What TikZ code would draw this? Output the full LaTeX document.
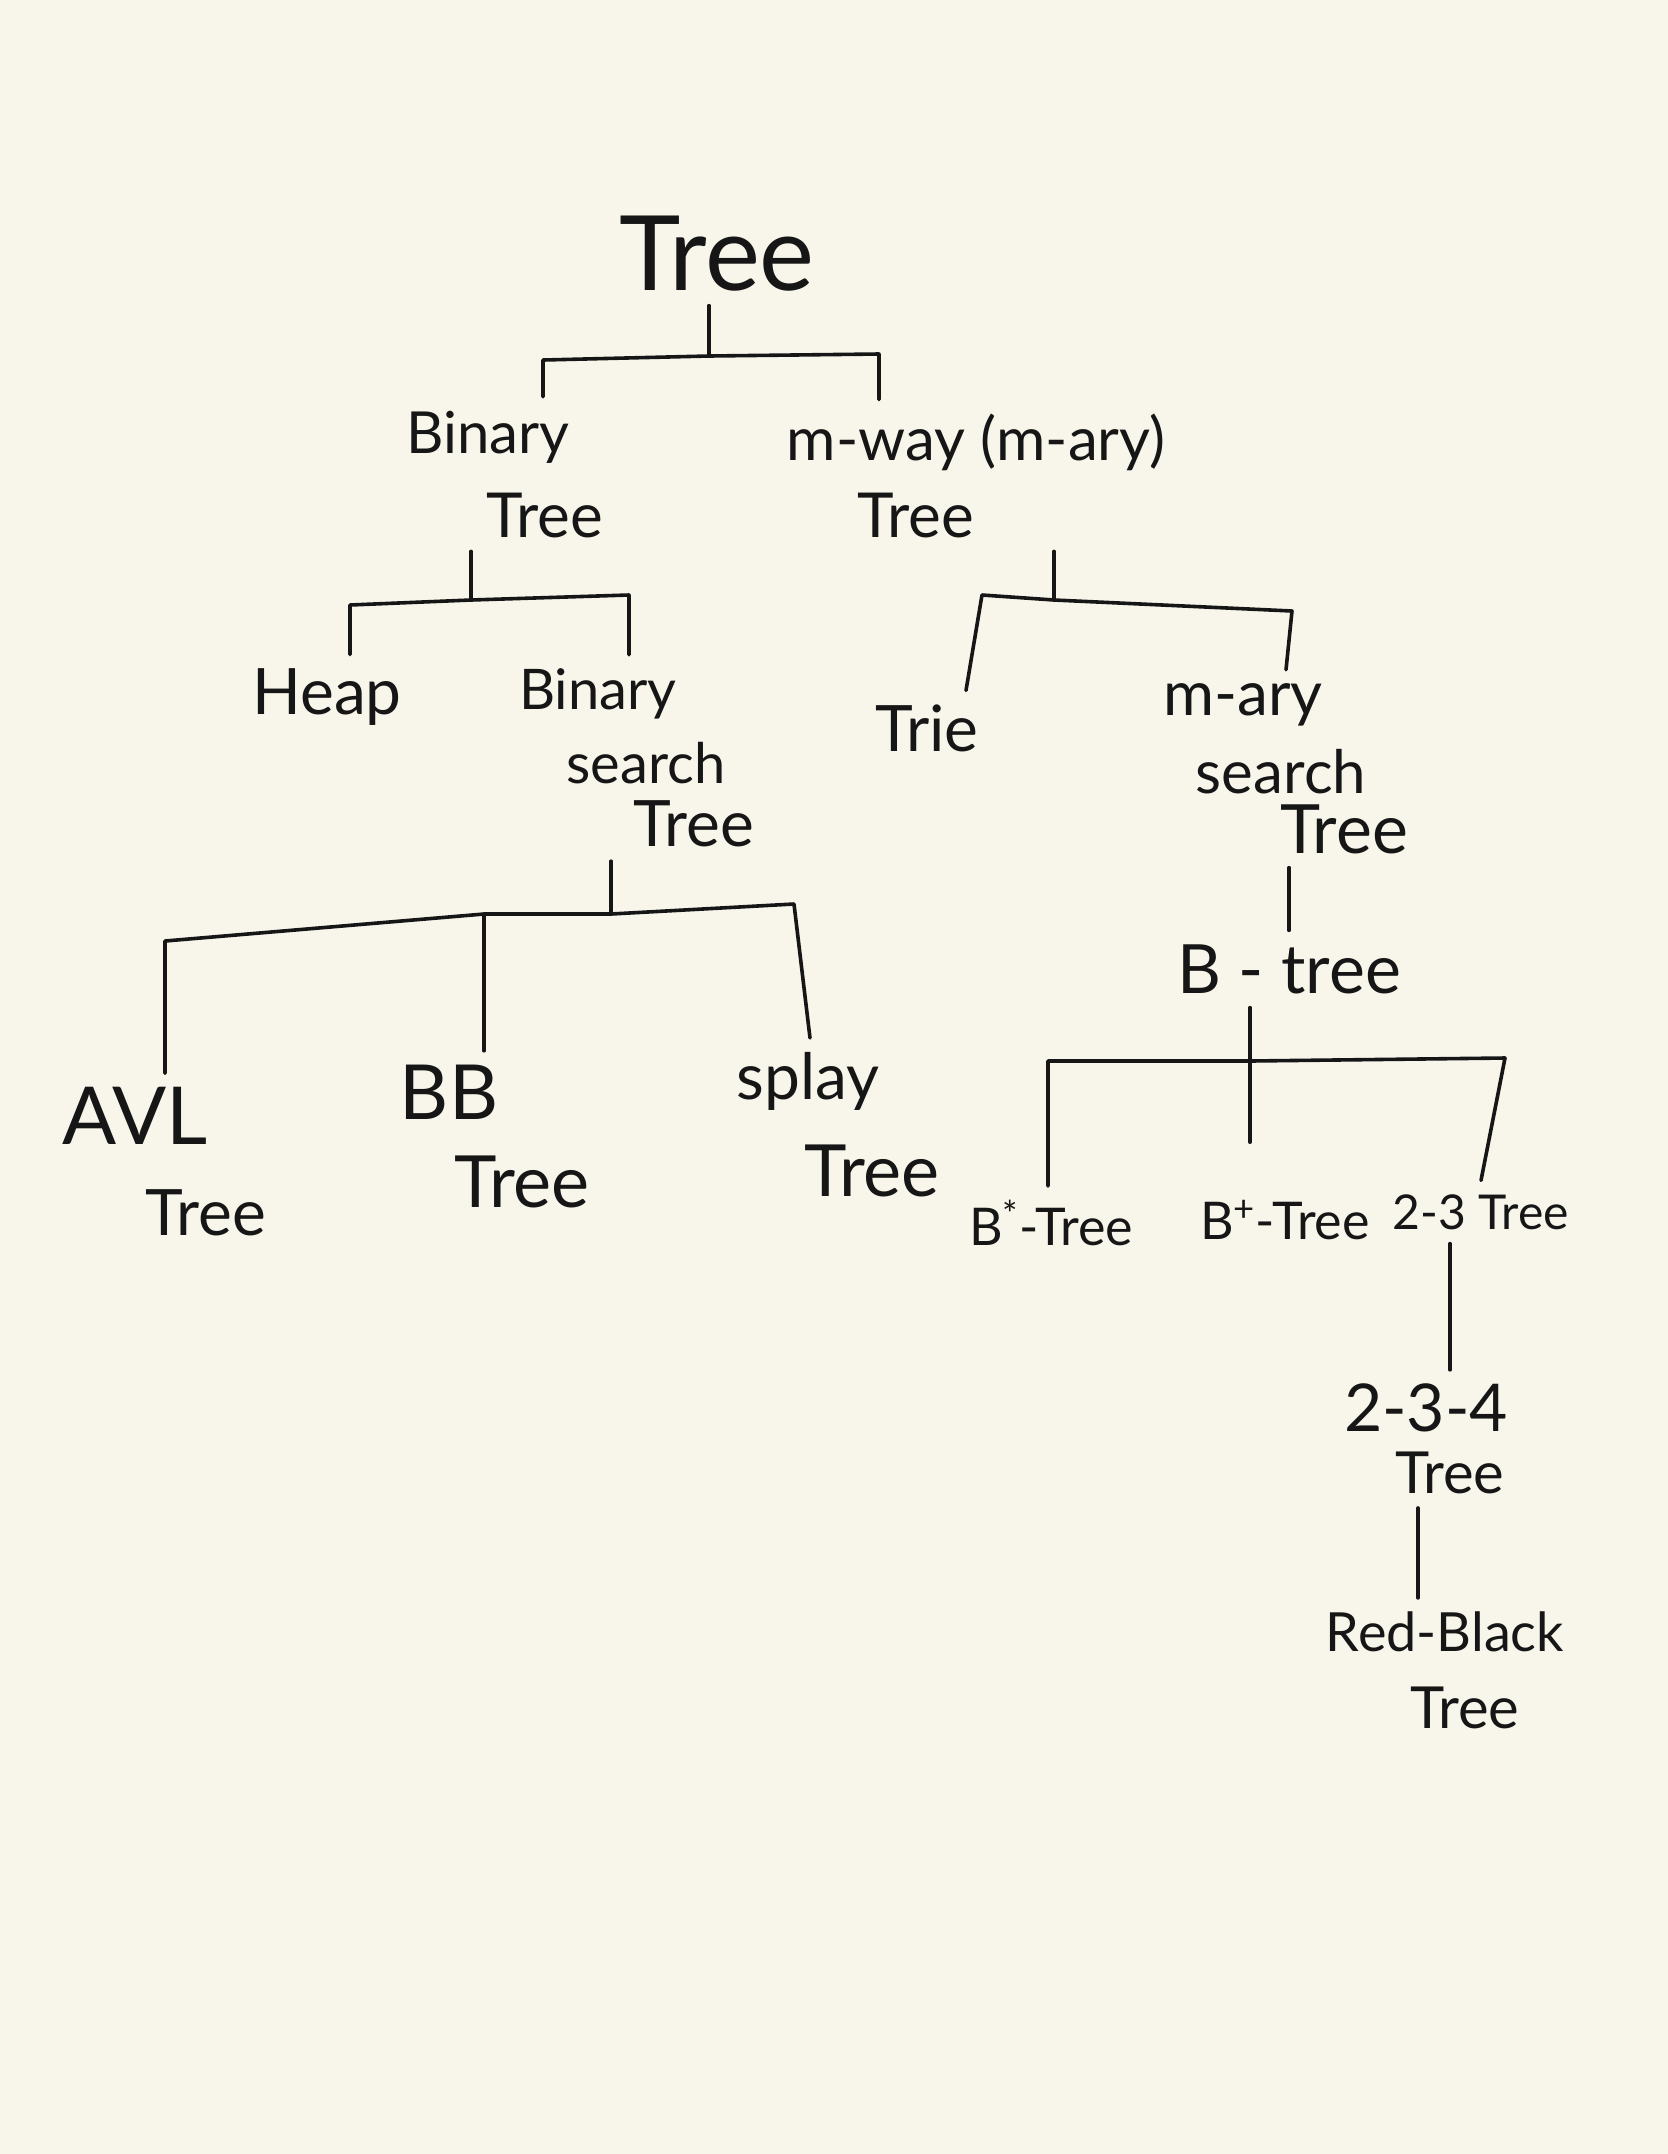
\documentclass[tikz,border=0pt]{standalone}
\usepackage{fontspec}
\setmainfont{Lato}
\definecolor{paper}{HTML}{F8F6EB}
\definecolor{ink}{HTML}{161616}
\begin{document}
\begin{tikzpicture}[x=0.5pt,y=-0.5pt,
  lbl/.style={text=ink,inner sep=3pt,outer sep=4pt,anchor=center},
  fs/.style={font=\fontsize{#1}{#1}\selectfont},
  edge/.style={draw=ink,line width=1.8pt,line cap=round,line join=round}]
\fill[paper] (0,0) rectangle (1668,2154);
\useasboundingbox (0,0) rectangle (1668,2154);
% nodes
\node[lbl,fs=52] (root) at (717,254) {Tree};
\node[lbl,fs=29] (binA) at (488,437) {Binary};
\node[lbl,fs=31] (binB) at (545,515) {Tree};
\node[lbl,fs=30] (mwA) at (976,442) {m-way (m-ary)};
\node[lbl,fs=31] (mwB) at (916,515) {Tree};
\node[lbl,fs=32] (heap) at (327,697) {Heap};
\node[lbl,fs=28] (bstA) at (598,694) {Binary};
\node[lbl,fs=28] (bstB) at (646,763) {search};
\node[lbl,fs=32] (bstC) at (694,824) {Tree};
\node[lbl,fs=32] (trie) at (927,728) {Trie};
\node[lbl,fs=31] (msA) at (1243,705) {m-ary};
\node[lbl,fs=30] (msB) at (1281,772) {search};
\node[lbl,fs=34] (msC) at (1344,829) {Tree};
\node[lbl,fs=40] (avlA) at (135,1116) {AVL};
\node[lbl,fs=32] (avlB) at (206,1213) {Tree};
\node[lbl,fs=38] (bbA) at (449,1092) {BB};
\node[lbl,fs=36] (bbB) at (522,1182) {Tree};
\node[lbl,fs=32] (spA) at (808,1081) {splay};
\node[lbl,fs=36] (spB) at (872,1171) {Tree};
\node[lbl,fs=34] (btree) at (1289,969) {B - tree};
\node[lbl,fs=26] (bstar) at (1051,1223) {B\textsuperscript{*}-Tree};
\node[lbl,fs=26] (bplus) at (1285,1220) {B\textsuperscript{+}-Tree};
\node[lbl,fs=24] (ttt) at (1481,1212) {2-3 Tree};
\node[lbl,fs=33] (tttfA) at (1426,1408) {2-3-4};
\node[lbl,fs=29] (tttfB) at (1450,1473) {Tree};
\node[lbl,fs=27] (rbA) at (1445,1632) {Red-Black};
\node[lbl,fs=29] (rbB) at (1465,1708) {Tree};
% junction coordinates
\coordinate (r0) at (709,356);
\coordinate (rl) at (543,360);
\coordinate (rr) at (879,354);
\coordinate (b0) at (471,600);
\coordinate (bl) at (350,605);
\coordinate (br) at (629,595);
\coordinate (m0) at (1054,600);
\coordinate (ml) at (982,595);
\coordinate (mr) at (1292,611);
\coordinate (s0) at (611,914);
\coordinate (sl) at (165,941);
\coordinate (sm) at (484,914);
\coordinate (sr) at (794,904);
\coordinate (t0) at (1250,1061);
\coordinate (tl) at (1048,1061);
\coordinate (tr) at (1505,1058);
\coordinate (xq) at (1450,1300);
\coordinate (xk) at (1418,1550);
% Tree
\draw[edge] (root.south -| r0) -- (r0);
\draw[edge] (rl |- binA.north) -- (rl) -- (r0) -- (rr) -- (rr |- mwA.north);
% Binary Tree
\draw[edge] (binB.south -| b0) -- (b0);
\draw[edge] (bl |- heap.north) -- (bl) -- (b0) -- (br) -- (br |- bstA.north);
% m-way Tree
\draw[edge] (mwB.south -| m0) -- (m0);
\draw[edge] ([xshift=-8pt]ml |- trie.north) -- (ml) -- (m0) -- (mr) -- ([xshift=-3pt]mr |- msA.north);
% Binary search tree
\draw[edge] (bstC.south -| s0) -- (s0);
\draw[edge] (sl |- avlA.north) -- (sl) -- (sm) -- (s0) -- (sr) -- ([xshift=8pt]sr |- spA.north);
\draw[edge] (sm) -- (sm |- bbA.north);
% m-ary search tree -> B-tree
\draw[edge] (msC.south -| btree.north) -- (btree.north);
% B-tree
\draw[edge,shorten >=22pt] (btree.south -| t0) -- (bplus.north -| t0);
\draw[edge] (tl |- bstar.north) -- (tl) -- (t0) -- (tr) -- ([xshift=-12pt]tr |- ttt.north);
% 2-3 tree
\draw[edge] (ttt.south -| xq) -- (tttfA.north -| xq);
\draw[edge] (tttfB.south -| xk) -- (rbA.north -| xk);
\end{tikzpicture}
\end{document}
